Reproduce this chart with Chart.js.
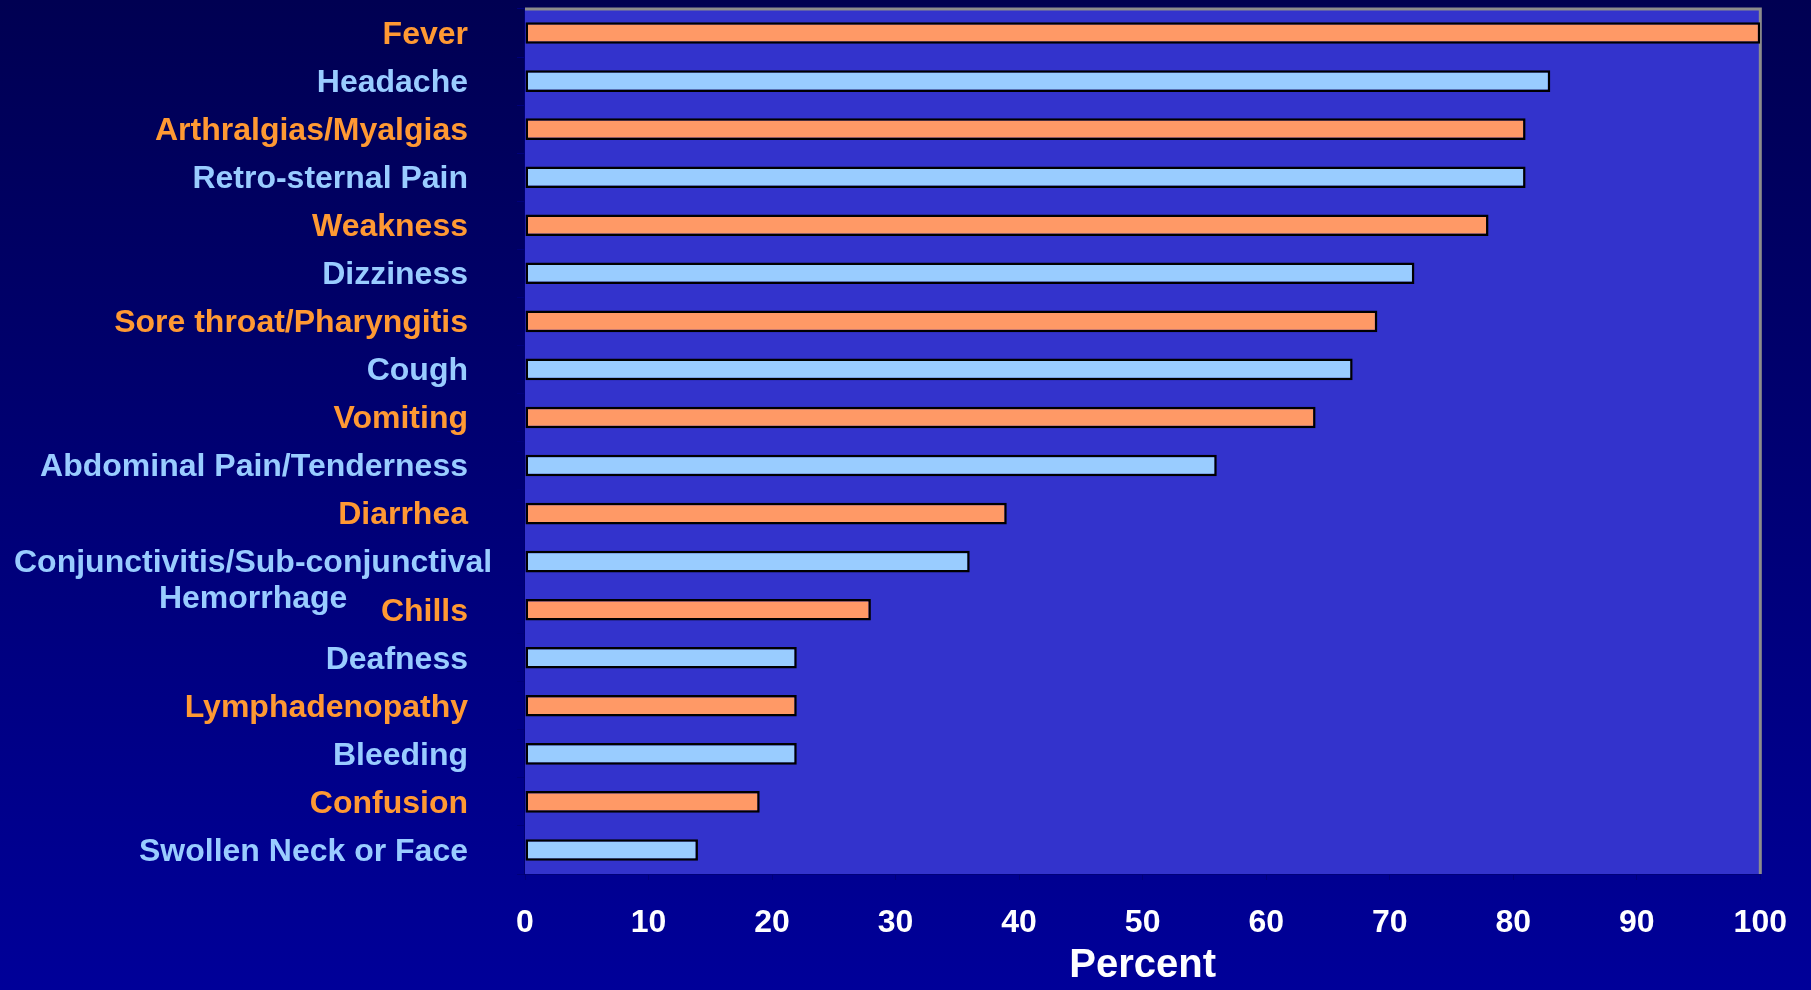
<!DOCTYPE html>
<html>
<head>
<meta charset="utf-8">
<script src="https://cdn.jsdelivr.net/npm/chart.js@4"></script>
<style>
  html, body { margin: 0; padding: 0; }
  body { width: 1811px; height: 990px; background: linear-gradient(to bottom, #000052, #000099); }
  #wrap { width: 1811px; height: 990px; }
</style>
</head>
<body>
<div id="wrap"><canvas id="symptomChart"></canvas></div>
<script>
const symptoms = [
    ["Fever"], ["Headache"], ["Arthralgias/Myalgias"], ["Retro-sternal Pain"], ["Weakness"],
    ["Dizziness"], ["Sore throat/Pharyngitis"], ["Cough"], ["Vomiting"], ["Abdominal Pain/Tenderness"],
    ["Diarrhea"], ["Conjunctivitis/Sub-conjunctival", "Hemorrhage"], ["Chills"], ["Deafness"],
    ["Lymphadenopathy"], ["Bleeding"], ["Confusion"], ["Swollen Neck or Face"]
];
const percents = [100, 83, 81, 81, 78, 72, 69, 67, 64, 56, 39, 36, 28, 22, 22, 22, 19, 14];
const xTicks = [0, 10, 20, 30, 40, 50, 60, 70, 80, 90, 100];

const orangeBar = '#FF9966';
const blueBar = '#99CCFF';
const orangeText = '#FF9933';
const blueText = '#99CCFF';

// plot area fill + gray frame on top/right
const plotBackground = {
    id: 'plotBackground',
    beforeDatasetsDraw(chart) {
        const { ctx, chartArea: a } = chart;
        ctx.save();
        ctx.fillStyle = '#3333CC';
        ctx.fillRect(a.left, a.top, a.right - a.left, a.bottom - a.top);
        ctx.strokeStyle = '#8C8C8C';
        ctx.lineWidth = 3;
        ctx.beginPath();
        ctx.moveTo(a.left, a.top);
        ctx.lineTo(a.right, a.top);
        ctx.lineTo(a.right, a.bottom);
        ctx.stroke();
        ctx.restore();
    }
};

// category labels, right aligned, second line centred under the first
const categoryLabels = {
    id: 'categoryLabels',
    afterDraw(chart) {
        const { ctx } = chart;
        const y = chart.scales.y;
        ctx.save();
        ctx.font = 'bold 32px "Liberation Sans", Arial, sans-serif';
        ctx.textBaseline = 'middle';
        symptoms.forEach((lines, i) => {
            const yc = y.getPixelForValue(i);
            ctx.fillStyle = i % 2 === 0 ? orangeText : blueText;
            const w0 = ctx.measureText(lines[0]).width;
            const right = Math.max(y.right - 57, w0 + 14);
            ctx.textAlign = 'right';
            ctx.fillText(lines[0], right, yc + 2);
            if (lines.length > 1) {
                ctx.textAlign = 'center';
                ctx.fillText(lines[1], right - w0 / 2, yc + 38);
            }
        });
        ctx.restore();
    }
};

const ctx = document.getElementById('symptomChart').getContext('2d');
const myChart = new Chart(ctx, {
    type: 'bar',
    data: {
        labels: symptoms.map(l => l.join(' ')),
        datasets: [{
            data: percents,
            backgroundColor: (c) => c.dataIndex % 2 === 0 ? orangeBar : blueBar,
            borderColor: '#000000',
            borderWidth: 2.5,
            borderSkipped: false,
            barPercentage: 0.45,
            categoryPercentage: 1.0
        }]
    },
    options: {
        indexAxis: 'y',
        responsive: true,
        maintainAspectRatio: false,
        animation: false,
        layout: { padding: { top: 9, right: 50, left: 0, bottom: 0 } },
        scales: {
            x: {
                min: 0,
                max: 100,
                afterBuildTicks: (scale) => { scale.ticks = xTicks.map(v => ({ value: v })); },
                afterFit: (scale) => { scale.height = 116; },
                border: { color: '#00007A', width: 2 },
                grid: { drawOnChartArea: false, color: '#00007A', tickLength: 6 },
                ticks: {
                    color: '#FFFFFF',
                    padding: 24,
                    maxRotation: 0,
                    font: { family: '"Liberation Sans", Arial, sans-serif', size: 32, weight: 'bold' }
                },
                title: {
                    display: true,
                    text: 'Percent',
                    color: '#FFFFFF',
                    padding: { top: 0, bottom: 0 },
                    font: { family: '"Liberation Sans", Arial, sans-serif', size: 40, weight: 'bold' }
                }
            },
            y: {
                afterFit: (scale) => { scale.width = 525; },
                border: { color: '#00006E', width: 2 },
                grid: { drawOnChartArea: false, color: '#00007A', tickLength: 8, offset: true },
                ticks: { display: false }
            }
        },
        plugins: {
            legend: { display: false },
            tooltip: { enabled: false }
        }
    },
    plugins: [plotBackground, categoryLabels]
});
</script>
</body>
</html>
